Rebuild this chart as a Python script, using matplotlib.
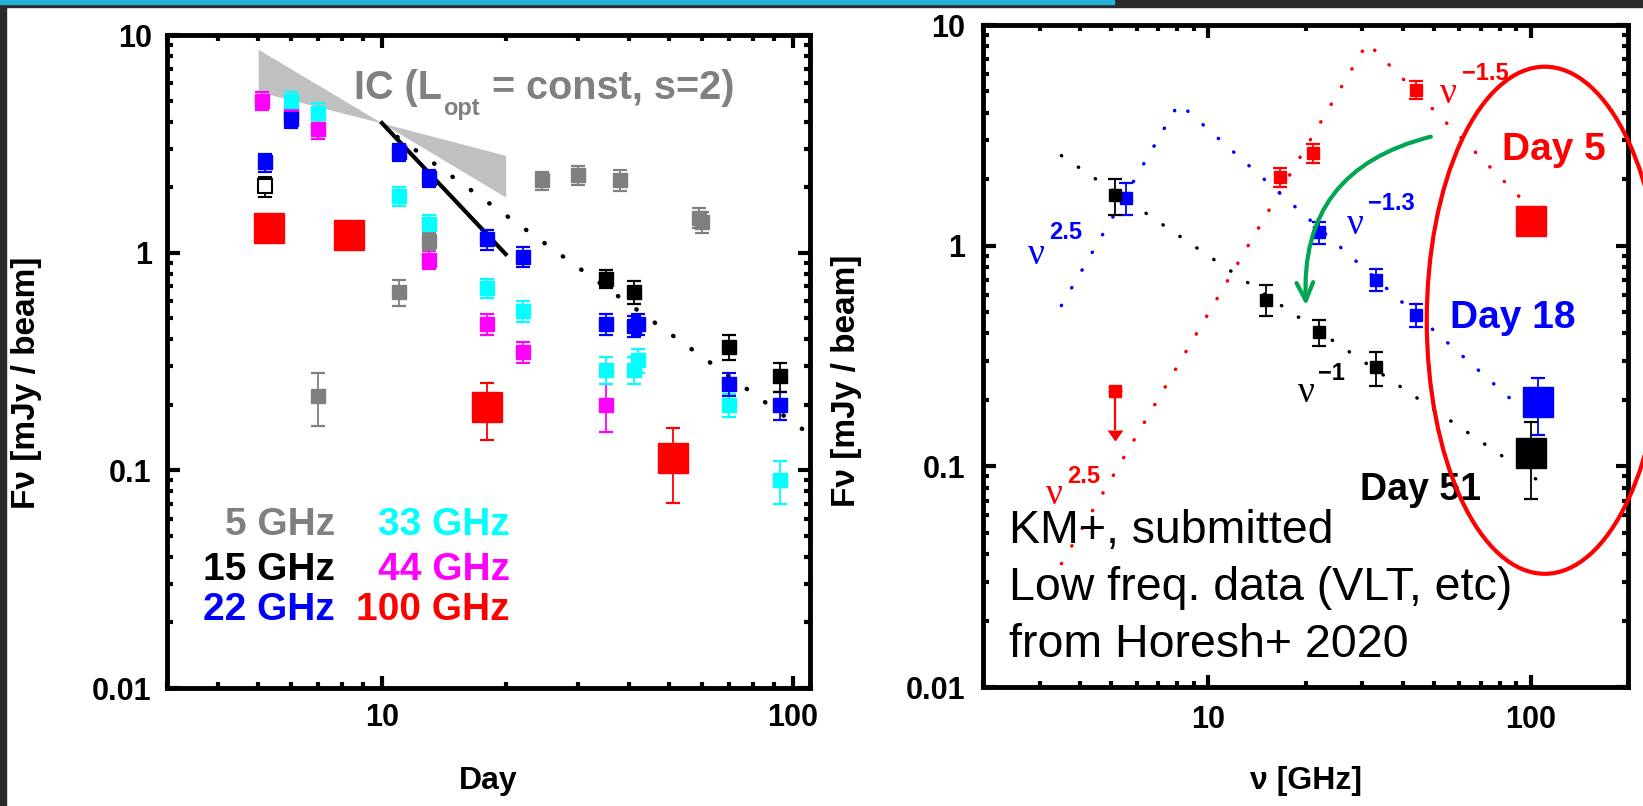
import matplotlib
matplotlib.use("Agg")
import matplotlib.pyplot as plt
from matplotlib.patches import Ellipse, FancyArrowPatch, Rectangle
from matplotlib.ticker import NullFormatter

plt.rcParams['font.family'] = ['Liberation Sans', 'DejaVu Sans']
plt.rcParams['font.weight'] = 'bold'
plt.rcParams['axes.labelweight'] = 'bold'

# ---- left panel: light curves (day, flux [mJy], error) ----
days_5 = [7, 11, 13, 24.5, 30, 38, 59, 60]
flux_5 = [0.22, 0.66, 1.13, 2.15, 2.27, 2.16, 1.45, 1.38]
err_5 = [0.06, 0.09, 0.1, 0.2, 0.23, 0.23, 0.15, 0.15]

days_15 = [35, 41, 70, 93]
flux_15 = [0.76, 0.66, 0.37, 0.27]
err_15 = [0.075, 0.08, 0.05, 0.04]
days_15_open = [5.2]
flux_15_open = [2.02]
err_15_open = [0.21]

days_22 = [5.2, 6, 11, 13, 18, 22, 35, 41, 42, 70, 93]
flux_22 = [2.6, 4.1, 2.9, 2.2, 1.15, 0.96, 0.47, 0.46, 0.47, 0.25, 0.2]
err_22 = [0.25, 0.36, 0.27, 0.2, 0.12, 0.1, 0.05, 0.05, 0.05, 0.03, 0.03]

days_33 = [6, 7, 11, 13, 18, 22, 35, 41, 42, 70, 93]
flux_33 = [5.0, 4.4, 1.82, 1.35, 0.69, 0.54, 0.29, 0.29, 0.32, 0.2, 0.09]
err_33 = [0.5, 0.45, 0.18, 0.14, 0.07, 0.06, 0.04, 0.04, 0.04, 0.025, 0.02]

days_44 = [5.1, 6, 7, 13, 18, 22, 35]
flux_44 = [5.0, 4.4, 3.7, 0.93, 0.47, 0.35, 0.2]
err_44 = [0.5, 0.45, 0.37, 0.09, 0.05, 0.04, 0.05]

days_100 = [5.3, 8.3, 18, 51]
flux_100 = [1.3, 1.2, 0.195, 0.114]
err_100 = [0, 0, 0.057, 0.043]

# IC band and power laws
ic_days = [5, 10, 20]
ic_hi = [8.6, 3.94, 2.8]
ic_lo = [5.5, 3.94, 1.8]
t2_days = [10, 20]
t2_flux = [3.94, 0.985]
dot_days = [10.9, 110]
dot_flux = [3.4, 0.146]

# ---- right panel: spectra (GHz, flux [mJy], error) ----
nu_day5 = [16.7, 21.1, 44, 100]
f_day5 = [2.04, 2.62, 5.1, 1.3]
e_day5 = [0.2, 0.26, 0.48, 0]
nu_day5_ul = [5.14]
f_day5_ul = [0.22]

nu_day18 = [5.56, 22, 33, 44, 105]
f_day18 = [1.65, 1.15, 0.7, 0.485, 0.195]
e_day18 = [0.28, 0.13, 0.08, 0.058, 0.057]

nu_day51 = [5.14, 15.05, 22, 33, 100]
f_day51 = [1.69, 0.57, 0.405, 0.281, 0.115]
e_day51 = [0.31, 0.09, 0.055, 0.05, 0.044]

red_model_nu = [3.5, 31.1, 96.4]
red_model_f = [0.0362, 8.31, 1.556]
blue_model_nu = [3.5, 8.1, 90]
blue_model_f = [0.535, 4.42, 0.192]
black_model_nu = [3.5, 109.4]
black_model_f = [2.56, 0.083]

yticks = [0.01, 0.1, 1, 10]
ytick_labels = ['0.01', '0.1', '1', '10']
xticks = [10, 100]
xtick_labels = ['10', '100']

GRAY = '#808080'
CYAN = '#00ffff'
MAG = '#ff00ff'
BLUE = '#0000ff'
RED = '#ff0000'

fig = plt.figure(figsize=(16.43, 8.06), dpi=100)
fig.patch.set_facecolor('white')

# slide frame
fig.patches.append(Rectangle((0, 1 - 7 / 806), 1, 7 / 806, transform=fig.transFigure,
                             color='#2b2b2b', zorder=0))
fig.patches.append(Rectangle((0, 1 - 3.5 / 806), 1114 / 1643, 3.5 / 806, transform=fig.transFigure,
                             color='#27b2d8', zorder=1))
fig.patches.append(Rectangle((0, 0), 6 / 1643, 1, transform=fig.transFigure,
                             color='#2b2b2b', zorder=0))

ax1 = fig.add_axes([0.10164, 0.14640, 0.39136, 0.81017])
ax2 = fig.add_axes([0.59830, 0.14764, 0.39257, 0.82134])


def style_axes(ax, xlim, pad):
    ax.set_xscale('log')
    ax.set_yscale('log')
    ax.set_xlim(*xlim)
    ax.set_ylim(0.01, 10)
    ax.set_xticks(xticks, xtick_labels)
    ax.set_yticks(yticks, ytick_labels)
    ax.xaxis.set_minor_formatter(NullFormatter())
    ax.yaxis.set_minor_formatter(NullFormatter())
    ax.tick_params(which='both', direction='in', top=True, right=True, width=3)
    ax.tick_params(which='major', length=9, labelsize=22, pad=pad)
    ax.tick_params(which='minor', length=4.5)
    for s in ax.spines.values():
        s.set_linewidth(3.5)


def ebar(ax, x, y, e, color, ms, **kw):
    ax.errorbar(x, y, yerr=e, fmt='s', color=color, ms=ms, capsize=5,
                elinewidth=1.3, capthick=1.6, mec=color, **kw)


# ---- left ----
style_axes(ax1, (3, 110), 11)
ax1.fill_between(ic_days, ic_lo, ic_hi, color='#c0c0c0', lw=0, zorder=1)
ax1.plot(t2_days, t2_flux, color='black', lw=3, zorder=2)
ax1.plot(dot_days, dot_flux, color='black', lw=3.2, ls=(0, (0.1, 5.0)),
         dash_capstyle='round', zorder=2)

ebar(ax1, days_44, flux_44, err_44, MAG, 9.5, zorder=3)
ebar(ax1, days_33, flux_33, err_33, CYAN, 9.5, zorder=3)
ebar(ax1, days_22, flux_22, err_22, BLUE, 9.5, zorder=3)
ebar(ax1, days_5, flux_5, err_5, GRAY, 9.5, zorder=3)
ebar(ax1, days_15, flux_15, err_15, 'black', 9.5, zorder=3)
ax1.errorbar(days_15_open, flux_15_open, yerr=err_15_open, fmt='s', color='black',
             mfc='white', mec='black', mew=1.5, ms=9.5, capsize=5, elinewidth=1.3,
             capthick=1.6, zorder=3)
ebar(ax1, days_100, flux_100, err_100, RED, 21, zorder=4)

ax1.set_xlabel('Day', fontsize=23)
ax1.xaxis.set_label_coords(0.5, -0.12)
ax1.set_ylabel('Fν [mJy / beam]', fontsize=24)
ax1.yaxis.set_label_coords(-0.194, 0.467)

ax1.text(0.2908, 0.9015, 'IC (L', transform=ax1.transAxes, color=GRAY, fontsize=28.5,
         ha='left', va='baseline')
ax1.text(0.4292, 0.8775, 'opt', transform=ax1.transAxes, color=GRAY, fontsize=17,
         ha='left', va='baseline')
ax1.text(0.5054, 0.9015, '= const, s=2)', transform=ax1.transAxes, color=GRAY, fontsize=28.5,
         ha='left', va='baseline')

legend_rows = [(0.2343, ('5 GHz', GRAY), ('33 GHz', CYAN)),
               (0.1654, ('15 GHz', 'black'), ('44 GHz', MAG)),
               (0.1041, ('22 GHz', BLUE), ('100 GHz', RED))]
for yb, left, right in legend_rows:
    ax1.text(0.2613, yb, left[0], color=left[1], transform=ax1.transAxes,
             fontsize=28, ha='right', va='baseline')
    ax1.text(0.5334, yb, right[0], color=right[1], transform=ax1.transAxes,
             fontsize=28, ha='right', va='baseline')

# ---- right ----
style_axes(ax2, (2, 200), 13)
dots = dict(lw=2.5, ls=(0, (0.1, 5.8)), dash_capstyle='round', zorder=2)
ax2.plot(red_model_nu, red_model_f, color=RED, **dots)
ax2.plot(blue_model_nu, blue_model_f, color=BLUE, **dots)
ax2.plot(black_model_nu, black_model_f, color='black', **dots)

ebar(ax2, nu_day5[:-1], f_day5[:-1], e_day5[:-1], RED, 8.5, zorder=3)
ebar(ax2, nu_day5[-1:], f_day5[-1:], e_day5[-1:], RED, 21, zorder=3)
ax2.errorbar(nu_day5_ul, f_day5_ul, yerr=0.074, uplims=True, fmt='s', color=RED,
             ms=8, capsize=5, elinewidth=1.6, zorder=3)
ebar(ax2, nu_day18[:-1], f_day18[:-1], e_day18[:-1], BLUE, 8.5, zorder=3)
ebar(ax2, nu_day18[-1:], f_day18[-1:], e_day18[-1:], BLUE, 21, zorder=3)
ebar(ax2, nu_day51[:-1], f_day51[:-1], e_day51[:-1], 'black', 8.5, zorder=3)
ebar(ax2, nu_day51[-1:], f_day51[-1:], e_day51[-1:], 'black', 21, zorder=3)

ax2.set_xlabel('ν [GHz]', fontsize=23)
ax2.xaxis.set_label_coords(0.5, -0.12)
ax2.set_ylabel('Fν [mJy / beam]', fontsize=24)
ax2.yaxis.set_label_coords(-0.188, 0.462)


def nu_label(ax, nu_xy, exp_xy, exp, color):
    ax.text(*nu_xy, 'ν', transform=ax.transAxes, color=color, fontsize=27,
            family=['Liberation Serif', 'DejaVu Serif'], fontweight='normal',
            ha='left', va='center')
    ax.text(*exp_xy, exp, transform=ax.transAxes, color=color, fontsize=17,
            ha='left', va='center')


nu_label(ax2, (0.0700, 0.6526), (0.1023, 0.686), '2.5', BLUE)
nu_label(ax2, (0.5645, 0.698), (0.597, 0.7298), '\u22121.3', BLUE)
nu_label(ax2, (0.7087, 0.8968), (0.7426, 0.9267), '\u22121.5', RED)
nu_label(ax2, (0.0979, 0.29), (0.1302, 0.3177), '2.5', RED)
nu_label(ax2, (0.4886, 0.444), (0.519, 0.474), '\u22121', 'black')

ax2.text(0.8047, 0.8112, 'Day 5', transform=ax2.transAxes, color=RED, fontsize=28,
         ha='left', va='center')
ax2.text(0.724, 0.557, 'Day 18', transform=ax2.transAxes, color=BLUE, fontsize=28,
         ha='left', va='center')
ax2.text(0.5845, 0.2976, 'Day 51', transform=ax2.transAxes, color='black', fontsize=27,
         ha='left', va='center')

note_lines = ['KM+, submitted', 'Low freq. data (VLT, etc)', 'from Horesh+ 2020']
for yb, line in zip([0.2175, 0.1314, 0.0453], note_lines):
    ax2.text(0.0403, yb, line, transform=ax2.transAxes, fontsize=33.5,
             fontweight='normal', ha='left', va='baseline', zorder=5)

ax2.add_patch(Ellipse((0.871, 0.554), 0.366, 0.766, transform=ax2.transAxes,
                      fill=False, ec=RED, lw=3, clip_on=False, zorder=6))

ax2.add_patch(FancyArrowPatch((49.9, 3.14), (20.1, 0.52), transform=ax2.transData,
                              connectionstyle='arc3,rad=0.42',
                              arrowstyle='->,head_length=0.65,head_width=0.3',
                              mutation_scale=20, color='#00a651', lw=3, zorder=6))

fig.savefig('out.png', dpi=100)
